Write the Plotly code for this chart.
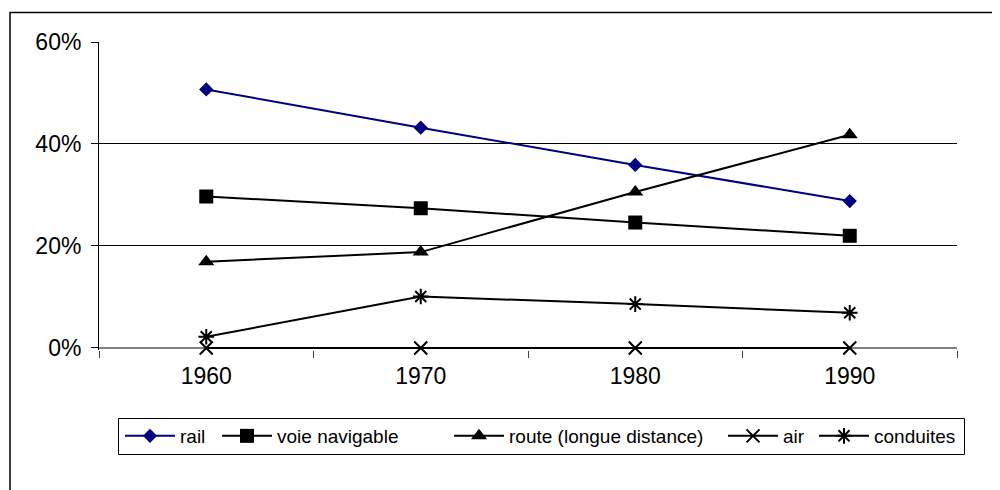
import plotly.graph_objects as go

years = ["1960", "1970", "1980", "1990"]
rail = [0.507, 0.432, 0.359, 0.288]
voie_navigable = [0.297, 0.274, 0.246, 0.220]
route = [0.169, 0.188, 0.306, 0.418]
air = [0.0, 0.0, 0.0, 0.0]
conduites = [0.022, 0.101, 0.086, 0.069]
y_ticks = [0, 0.2, 0.4, 0.6]

# page body has an 8px margin: figure origin sits at (8, 8) in the window
OFF = 8
W, H = 1000 - OFF, 490 - OFF
Y_MIN, Y_MAX = -0.004, 0.6
# target pixel geometry (window coords): 60% at y=42, 0% at y=348
PL, PR, PT = 99, 957, 42
PB = round(PT + (348 - PT) * (Y_MAX - Y_MIN) / Y_MAX)
ML, MT = PL - OFF, PT - OFF
MR, MB = W - (PR - OFF), H - (PB - OFF)
PW, PH = PR - PL, PB - PT

def px_x(p):
    return (p - PL) / PW

def px_y(p):
    return (PB - p) / PH

FONT = "Liberation Sans, Arial, sans-serif"

series = [
    ("rail", rail, "#000080", "diamond", 11, dict()),
    ("voie navigable", voie_navigable, "#000000", "square", 14, dict()),
    ("route (longue distance)", route, "#000000", "triangle-up", 14, dict()),
    ("air", air, "#000000", "x-thin", 13, dict(line=dict(width=2, color="#000000"))),
    ("conduites", conduites, "#000000", "asterisk-open", 13, dict(line=dict(width=2, color="#000000"))),
]

legend_x = [120, 217, 449, 723, 814]
legend_names = ["legend", "legend2", "legend3", "legend4", "legend5"]

fig = go.Figure()
for (name, vals, color, sym, size, extra), lname in zip(series, legend_names):
    mk = dict(symbol=sym, size=size, color=color)
    mk.update(extra)
    fig.add_trace(go.Scatter(
        x=years, y=vals, name=name, mode="lines+markers",
        line=dict(color=color, width=2),
        marker=mk, legend=lname, cliponaxis=False,
    ))

layout_legends = {}
for lname, lx in zip(legend_names, legend_x):
    layout_legends[lname] = dict(
        x=(lx - OFF) / W, xref="container", xanchor="left",
        y=1 - (436 - OFF) / H, yref="container", yanchor="middle",
        orientation="h", bgcolor="rgba(0,0,0,0)", borderwidth=0,
        font=dict(family=FONT, size=19, color="#000000"),
        itemsizing="trace", itemwidth=50,
    )

fig.update_layout(
    width=W, height=H, autosize=False,
    margin=dict(l=ML, r=MR, t=MT, b=MB, pad=0),
    paper_bgcolor="white", plot_bgcolor="white",
    showlegend=True,
    **layout_legends,
    xaxis=dict(
        type="category", range=[-0.5, 3.5],
        showline=False,
        ticks="outside", tickson="boundaries", ticklen=7, tickcolor="#404040", tickwidth=1,
        showgrid=False, zeroline=False,
        tickfont=dict(family=FONT, size=23, color="#000000"),
        ticklabelstandoff=10,
    ),
    yaxis=dict(
        range=[Y_MIN, Y_MAX], tickvals=y_ticks, tickformat=".0%",
        showline=True, linecolor="#000000", linewidth=1,
        ticks="outside", ticklen=7, tickcolor="#000000",
        showgrid=True, gridcolor="#000000", gridwidth=1,
        zeroline=True, zerolinecolor="#808080", zerolinewidth=2,
        tickfont=dict(family=FONT, size=23, color="#000000"),
        ticklabelstandoff=5,
    ),
    shapes=[
        dict(type="rect", xref="paper", yref="paper",
             x0=px_x(10), x1=px_x(1010), y0=px_y(12.6), y1=px_y(500),
             line=dict(color="#000000", width=1.5), fillcolor="rgba(0,0,0,0)", layer="below"),
        dict(type="rect", xref="paper", yref="paper",
             x0=px_x(118.5), x1=px_x(964.5), y0=px_y(418.5), y1=px_y(454.5),
             line=dict(color="#000000", width=1), fillcolor="rgba(0,0,0,0)", layer="below"),
    ],
)

fig.write_html("out.html")
